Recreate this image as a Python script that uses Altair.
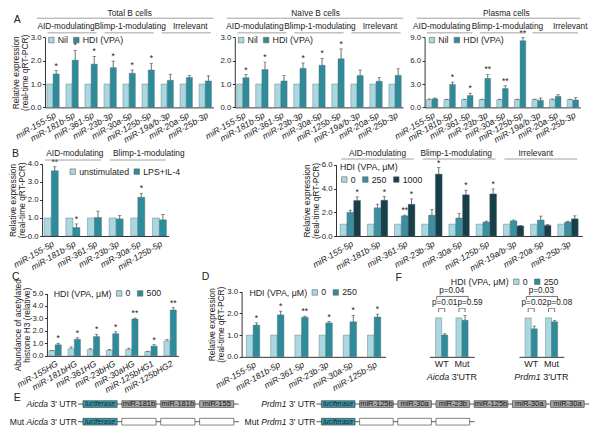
import altair as alt
import pandas as pd

W, H = 584, 419
SX = 584 / 600
SY = 419 / 430


def X(px):
    return round(px * SX, 2)


def Y(py):
    return round(py * SY, 2)


FONT = "Liberation Sans"
INK = "#222222"
LIGHT = "#a8d8e1"
TEAL = "#2e8c9a"
MID = "#3a8fa2"
DARK = "#163f4a"
BOXTEAL = "#3d9aa9"
BOXGRAY = "#a8a8a8"
HFS = 8.3   # header font size

# ---------------- data ----------------
mirs9 = ["miR-155-5p", "miR-181b-5p", "miR-361-5p", "miR-23b-3p", "miR-30a-5p",
         "miR-125b-5p", "miR-19a/b-3p", "miR-20a-5p", "miR-25b-3p"]
mirs6 = ["miR-155-5p", "miR-181b-5p", "miR-361-5p", "miR-23b-3p", "miR-30a-5p", "miR-125b-5p"]
hg7 = ["miR-155HG", "miR-181bHG", "miR-361HG", "miR-23bHG", "miR-30aHG", "miR-125bHG1", "miR-125bHG2"]
groups = ["AID-modulating", "Blimp-1-modulating", "Irrelevant"]

a_conds = ["Nil", "HDI (VPA)"]
a_nil = [1.0, 1.0, 1.0, 1.0, 1.0, 1.0, 1.0, 1.0, 1.0]
a_nil_err = [0, 0, 0, 0, 0, 0, 0, 0, 0]
a_nostar = ["", "", "", "", "", "", "", "", ""]
total_hdi = [1.43, 2.02, 1.85, 1.70, 1.46, 1.60, 1.16, 1.28, 1.13]
total_err = [0.14, 0.42, 0.33, 0.28, 0.14, 0.28, 0.26, 0.08, 0.22]
total_star = ["*", "*", "*", "*", "*", "*", "", "", ""]
naive_hdi = [1.27, 1.62, 1.13, 1.67, 1.80, 2.08, 1.36, 1.12, 1.37]
naive_err = [0.13, 0.32, 0.23, 0.23, 0.30, 0.42, 0.24, 0.16, 0.28]
naive_star = ["*", "*", "", "*", "*", "*", "", "", ""]
plasma_nil_err = [0.08, 0.05, 0.05, 0.05, 0.05, 0.05, 0.06, 0.08, 0.05]
plasma_hdi = [1.10, 2.95, 1.52, 3.72, 2.42, 8.55, 0.90, 1.42, 0.95]
plasma_err = [0.10, 0.30, 0.30, 0.50, 0.35, 0.40, 0.30, 0.20, 0.30]
plasma_star = ["", "*", "*", "**", "**", "**", "", "", ""]

b_conds = ["unstimulated", "LPS+IL-4"]
b_unstim = [1.0, 1.0, 1.0, 1.0, 1.0, 1.0]
b_unstim_err = [0, 0, 0, 0, 0, 0]
b_lps = [3.62, 0.47, 1.03, 0.95, 2.15, 0.90]
b_lps_err = [0.22, 0.20, 0.35, 0.18, 0.22, 0.30]
b_star = ["**", "*", "", "", "*", ""]
b_nostar = ["", "", "", "", "", ""]

dose_conds = ["0", "250", "1000"]
dose0 = [1.0, 1.0, 1.0, 1.0, 1.0, 1.0, 1.0, 1.0, 1.0]
dose0_err = [0, 0, 0, 0, 0, 0, 0, 0, 0]
dose250 = [2.00, 2.38, 1.70, 1.76, 1.52, 1.18, 1.28, 1.35, 1.18]
dose250_err = [0.18, 0.30, 0.06, 0.48, 0.40, 0.08, 0.07, 0.33, 0.07]
dose250_star = ["", "", "**", "", "", "", "", "", ""]
dose1000 = [3.00, 3.02, 2.68, 5.22, 3.48, 3.55, 0.85, 0.90, 1.45]
dose1000_err = [0.30, 0.30, 0.45, 0.55, 0.38, 0.42, 0.05, 0.08, 0.25]
dose1000_star = ["*", "*", "*", "*", "*", "*", "", "", ""]

c_conds = ["0", "500"]
c0 = [0.42, 0.57, 0.50, 0.45, 0.52, 0.34, 1.20]
c0_err = [0.03, 0.15, 0.07, 0.07, 0.10, 0.04, 0.10]
c500 = [0.89, 1.33, 1.55, 1.78, 2.95, 0.78, 3.68]
c500_err = [0.12, 0.12, 0.17, 0.15, 0.08, 0.12, 0.18]
c_star = ["*", "*", "*", "*", "**", "*", "**"]
c_nostar = ["", "", "", "", "", "", ""]

d_conds = ["0", "250"]
d0 = [1.0, 1.0, 1.0, 1.0, 1.0, 1.0]
d0_err = [0, 0, 0, 0, 0, 0]
d250 = [1.46, 1.93, 1.82, 1.56, 1.61, 1.83]
d250_err = [0.10, 0.17, 0.05, 0.06, 0.30, 0.13]
d_star = ["*", "*", "**", "*", "*", "*"]

f_cats = ["WT", "Mut"]
f_conds = ["0", "250"]
f_ctrl = [100, 100]
f_ctrl_err = [0, 0]
f1_250 = [56, 94]
f1_250_err = [3, 12]
f2_250 = [72, 90]
f2_250_err = [7, 3]
f_nostar = ["", ""]
f1_p_pair = ["p=0.01", "p=0.59"]
f1_p_cross = "p=0.04"
f2_p_pair = ["p=0.02", "p=0.08"]
f2_p_cross = "p=0.03"

aicda_wt = ["luciferase", "miR-181b", "miR-181b", "miR-155"]
aicda_mut = ["luciferase", "", "", ""]
prdm1_wt = ["luciferase", "miR-125b", "miR-30a", "miR-23b", "miR-125b", "miR-30a", "miR-30a"]
prdm1_mut = ["luciferase", "", "", ""]

# -------- text width helper (Arial/Liberation metrics) --------
ADV = {"A": 667, "i": 222, "c": 500, "d": 556, "a": 556, " ": 278, "3": 556, "'": 191,
       "U": 722, "T": 611, "R": 722, "M": 833, "u": 556, "t": 278, "P": 667, "r": 333,
       "m": 833, "1": 556}


def tw(s, size):
    return sum(ADV.get(ch, 556) for ch in s) * size / 1000.0


def text_at(txt, x, y, size=HFS, align="center", style="normal", color=INK, baseline="middle"):
    return alt.Chart(pd.DataFrame({"t": [txt]})).mark_text(
        align=align, baseline=baseline, fontSize=size, fontStyle=style, color=color
    ).encode(x=alt.value(x), y=alt.value(y), text="t:N")


def mk_legend(x, y, title=None, left=False, colpad=3):
    kw = dict(orient="none", legendX=X(x), legendY=Y(y), direction="horizontal",
              symbolType="square", symbolSize=30, symbolStrokeColor="#666", symbolStrokeWidth=0.6,
              labelFontSize=8.8, labelColor=INK, columnPadding=colpad, labelOffset=2, padding=0,
              title=title)
    if title is not None:
        kw.update(titleFontSize=8.8, titleFontWeight="normal", titleColor=INK, titlePadding=3)
    if left:
        kw["titleOrient"] = "left"
    return alt.Legend(**kw)


def bar_panel(cats, conds, colors, vals, errs, stars, xr, yr, ydom, yticks, ytitle, legend,
              pin=0.35, pout=0.1, angle=-30, italic=True, xfs=8.6, yfmt=".1f"):
    rows = []
    for j, c in enumerate(conds):
        for i, cat in enumerate(cats):
            rows.append({"cat": cat, "cond": c, "value": vals[j][i],
                         "top": vals[j][i] + errs[j][i], "err": errs[j][i], "star": stars[j][i]})
    df = pd.DataFrame(rows)
    xscale = alt.Scale(domain=cats, range=[X(xr[0]), X(xr[1])], paddingInner=pin, paddingOuter=pout)
    akw = dict(orient="bottom", offset=Y(yr[0]) - H, title=None, ticks=False, labelAngle=angle,
               labelFontSize=xfs, labelPadding=3, labelOverlap=False, labelLimit=0)
    if italic:
        akw["labelFontStyle"] = "italic"
    xaxis = alt.Axis(**akw)
    ykw = dict(orient="left", offset=-X(xr[0]), values=yticks, format=yfmt, title=ytitle,
               titlePadding=1, labelPadding=1.5, tickSize=2.5)
    yaxis = alt.Axis(**ykw)
    yscale = alt.Scale(domain=ydom, range=[Y(yr[0]), Y(yr[1])], nice=False)

    def xe(field="cat", bp=None):
        kw = dict(scale=xscale, axis=xaxis)
        if bp is not None:
            kw["bandPosition"] = bp
        return alt.X(field + ":N", **kw)

    def ye(field="value"):
        return alt.Y(field + ":Q", scale=yscale, axis=yaxis)

    xoff = alt.XOffset("cond:N", scale=alt.Scale(domain=conds, paddingInner=0, paddingOuter=0))
    color = alt.Color("cond:N", scale=alt.Scale(domain=conds, range=colors), legend=legend)
    base = alt.Chart(df)
    bars = base.mark_bar(stroke="#5a6a6e", strokeWidth=0.4).encode(x=xe(), xOffset=xoff, y=ye(), color=color)
    eb = base.transform_filter("datum.err > 0").mark_rule(color="#333", strokeWidth=0.7).encode(
        x=xe(), xOffset=xoff, y=ye(), y2="top:Q")
    caps = base.transform_filter("datum.err > 0").mark_tick(
        color="#333", thickness=0.7, size=3.5, orient="horizontal").encode(x=xe(), xOffset=xoff, y=ye("top"))
    st = base.transform_filter("datum.star != ''").mark_text(
        baseline="bottom", dy=0, fontSize=8.5, color=INK).encode(x=xe(), xOffset=xoff, y=ye("top"), text="star:N")
    return {"layers": [bars, eb, caps, st], "xe": xe, "ye": ye, "xoff": xoff, "xr": xr}


def group_layers(p, cats, ngroups, label_y, line_y, shifts):
    gdf = pd.DataFrame({"g": groups[:ngroups], "start": cats[0:3 * ngroups:3],
                        "mid": cats[1:3 * ngroups:3], "end": cats[2:3 * ngroups:3]})
    out = []
    for k in range(ngroups):
        out.append(alt.Chart(gdf.iloc[[k]]).mark_text(fontSize=HFS, color=INK, baseline="middle", dx=shifts[k]).encode(
            x=p["xe"]("mid"), y=alt.value(Y(label_y)), text="g:N"))
    line = alt.Chart(gdf).mark_rule(color="#8a8a8a", strokeWidth=0.8).encode(
        x=p["xe"]("start", 0.05), x2=alt.X2("end:N", bandPosition=0.95), y=alt.value(Y(line_y)))
    return out + [line]


def title_layers(p, title, cx):
    x0, x1 = p["xr"]
    line = alt.Chart(pd.DataFrame({"t": [title]})).mark_rule(color="#8a8a8a", strokeWidth=0.8).encode(
        x=alt.value(X(x0) - 8), x2=alt.value(X(x1)), y=alt.value(Y(10.5)))
    return [text_at(title, X(cx), Y(5.8)), line]


rel_title = ["Relative expression", "(real-time qRT-PCR)"]
panels = []

# ---------- A ----------
A1 = bar_panel(mirs9, a_conds, [LIGHT, TEAL], [a_nil, total_hdi], [a_nil_err, total_err],
               [a_nostar, total_star], (38, 211), (102, 30), [0, 3], [0, 1, 2, 3], rel_title, mk_legend(40, 28))
panels.append(alt.layer(*(A1["layers"] + group_layers(A1, mirs9, 3, 19.5, 25.5, (-6, 1, 4))
                          + title_layers(A1, "Total B cells", 125))))
A2 = bar_panel(mirs9, a_conds, [LIGHT, TEAL], [a_nil, naive_hdi], [a_nil_err, naive_err],
               [a_nostar, naive_star], (233, 406), (102, 30), [0, 3], [0, 1, 2, 3], None, mk_legend(235, 28))
panels.append(alt.layer(*(A2["layers"] + group_layers(A2, mirs9, 3, 19.5, 25.5, (-7, 1, 4))
                          + title_layers(A2, "Naïve B cells", 316))))
A3 = bar_panel(mirs9, a_conds, [LIGHT, TEAL], [a_nil, plasma_hdi], [plasma_nil_err, plasma_err],
               [a_nostar, plasma_star], (428, 588), (102, 30), [0, 9], [0, 3, 6, 9], None, mk_legend(431, 28))
panels.append(alt.layer(*(A3["layers"] + group_layers(A3, mirs9, 3, 19.5, 25.5, (-8, 5, 15))
                          + title_layers(A3, "Plasma cells", 512))))

# ---------- B ----------
B1 = bar_panel(mirs6, b_conds, [LIGHT, TEAL], [b_unstim, b_lps], [b_unstim_err, b_lps_err],
               [b_nostar, b_star], (35, 165), (234, 160), [0, 4], [0, 1, 2, 3, 4], rel_title, mk_legend(62, 163))
panels.append(alt.layer(*(B1["layers"] + group_layers(B1, mirs6, 2, 150, 156, (2, 11)))))
B2 = bar_panel(mirs9, dose_conds, [LIGHT, MID, DARK], [dose0, dose250, dose1000],
               [dose0_err, dose250_err, dose1000_err], [a_nostar, dose250_star, dose1000_star],
               (337, 590), (234, 161), [0, 6], [0, 2, 4, 6], rel_title,
               mk_legend(341, 159, title="HDI (VPA, μM)", colpad=5), pin=0.25, pout=0.15)
panels.append(alt.layer(*(B2["layers"] + group_layers(B2, mirs9, 3, 150, 155, (0, -3, -5)))))

# ---------- C ----------
C1 = bar_panel(hg7, c_conds, [LIGHT, TEAL], [c0, c500], [c0_err, c500_err], [c_nostar, c_star],
               (40, 175), (357, 293), [0, 5], [0, 1, 2, 3, 4, 5], ["Abundance of acetylated", "histone H3 (relative)"],
               mk_legend(47, 288, title="HDI (VPA, μM)", left=True, colpad=5))
panels.append(alt.layer(*C1["layers"]))

# ---------- D ----------
D1 = bar_panel(mirs6, d_conds, [LIGHT, TEAL], [d0, d250], [d0_err, d250_err], [b_nostar, d_star],
               (240, 388), (358, 291), [0, 3], [0, 1, 2, 3], rel_title,
               mk_legend(248, 287, title="HDI (VPA, μM)", left=True, colpad=5), pin=0.45, pout=0.2)
panels.append(alt.layer(*D1["layers"]))


# ---------- F ----------
def f_panel(vals250, errs250, p_pair, p_cross, xr, legend, title_gene, cx):
    p = bar_panel(f_cats, f_conds, [LIGHT, TEAL], [f_ctrl, vals250], [f_ctrl_err, errs250],
                  [f_nostar, f_nostar], xr, (358, 294), [0, 160], [0, 40, 80, 120, 160],
                  "Luciferase activity", legend, pin=0.4, pout=0.3, angle=0, italic=False, xfs=9, yfmt="d")
    xe, xoff = p["xe"], p["xoff"]
    pfs = 8.2
    legs = pd.DataFrame({"cat": [c for c in f_cats for _ in f_conds], "cond": [d for _ in f_cats for d in f_conds]})
    small_legs = alt.Chart(legs).mark_rule(color="#333", strokeWidth=0.7).encode(
        x=xe(), xOffset=xoff, y=alt.YDatum(115, axis=None), y2=alt.Y2Datum(124))
    pair = pd.DataFrame({"cat": f_cats, "p": p_pair})
    small_top = alt.Chart(pair).mark_tick(color="#333", thickness=0.7, size=6.2, orient="horizontal").encode(
        x=xe(), y=alt.YDatum(124, axis=None))
    ptxt_wt = alt.Chart(pair.iloc[[0]]).mark_text(fontSize=pfs, color=INK, baseline="bottom", dx=3).encode(
        x=xe(), y=alt.YDatum(127, axis=None), text="p:N")
    ptxt_mut = alt.Chart(pair.iloc[[1]]).mark_text(fontSize=pfs, color=INK, baseline="bottom", dx=8).encode(
        x=xe(), y=alt.YDatum(127, axis=None), text="p:N")
    cross = pd.DataFrame({"a": [f_cats[0]], "b": [f_cats[1]], "p": [p_cross]})
    big_top = alt.Chart(cross).mark_rule(color="#333", strokeWidth=0.7).encode(
        x=xe("a", 0.1), x2=alt.X2("b:N", bandPosition=1.0), y=alt.YDatum(155, axis=None))
    big_leg_a = alt.Chart(cross).mark_rule(color="#333", strokeWidth=0.7).encode(
        x=xe("a", 0.1), y=alt.YDatum(146, axis=None), y2=alt.Y2Datum(155))
    big_leg_b = alt.Chart(cross).mark_rule(color="#333", strokeWidth=0.7).encode(
        x=xe("b", 1.0), y=alt.YDatum(146, axis=None), y2=alt.Y2Datum(155))
    big_txt = alt.Chart(cross).mark_text(fontSize=pfs, color=INK, baseline="bottom", dx=4).encode(
        x=xe("a", 1.0), y=alt.YDatum(158, axis=None), text="p:N")
    fs = 9
    total = tw(title_gene + " " + "3'UTR", fs)
    sx = X(cx) - total / 2
    t1 = text_at(title_gene, sx, Y(379), size=fs, align="left", style="italic")
    t2 = text_at("3'UTR", sx + tw(title_gene + " ", fs), Y(379), size=fs, align="left")
    return alt.layer(*(p["layers"] + [small_legs, small_top, ptxt_wt, ptxt_mut, big_top, big_leg_a, big_leg_b, big_txt, t1, t2]))


panels.append(f_panel(f1_250, f1_250_err, f1_p_pair, f1_p_cross, (433, 479),
                      mk_legend(455, 276, title="HDI (VPA, μM)", left=True, colpad=5), "Aicda", 456))
panels.append(f_panel(f2_250, f2_250_err, f2_p_pair, f2_p_cross, (525, 571), None, "Prdm1", 548))


# ---------- E ----------
def construct(wt, mut, gene, xr):
    n = len(wt)
    slot_ids = ["s%d" % i for i in range(n)]
    rows = []
    for i, lab in enumerate(wt):
        rows.append({"row": "wt", "slot": slot_ids[i], "label": lab, "kind": "luc" if lab == "luciferase" else "mir"})
    for i, lab in enumerate(mut):
        rows.append({"row": "mut", "slot": slot_ids[i], "label": lab, "kind": "luc" if lab == "luciferase" else "mut"})
    df = pd.DataFrame(rows)
    pin = 0.12
    x0c, x1c = X(xr[0]), X(xr[1])
    xs = alt.Scale(domain=slot_ids, range=[x0c, x1c], paddingInner=pin, paddingOuter=0)
    step = (x1c - x0c) / (n - pin)
    band = step * (1 - pin)

    def xe(field, bp=None):
        kw = dict(scale=xs, axis=None)
        if bp is not None:
            kw["bandPosition"] = bp
        return alt.X(field + ":N", **kw)

    ye = alt.Y("row:N", scale=alt.Scale(domain=["wt", "mut"], range=[Y(403), Y(428)],
                                        paddingInner=0.62, paddingOuter=0), axis=None)
    bb = pd.DataFrame({"row": ["wt", "mut"], "start": ["s0", "s0"],
                       "prefix": ["", "Mut"], "gene": [gene, gene], "suffix": ["3' UTR", "3' UTR"]})
    lead = 5
    layers = []
    for r, k in (("wt", len(wt)), ("mut", len(mut))):
        end = x0c + (k - 1) * step + band + lead
        layers.append(alt.Chart(bb).transform_filter("datum.row == '%s'" % r).mark_rule(
            color="#333", strokeWidth=0.8).encode(x=alt.value(x0c - lead), x2=alt.value(end), y=ye))
    boxes = alt.Chart(df).mark_rect(stroke="#333", strokeWidth=0.6).encode(
        x=xe("slot"), y=ye,
        fill=alt.Fill("kind:N", scale=alt.Scale(domain=["luc", "mir", "mut"], range=[BOXTEAL, BOXGRAY, "#ffffff"]), legend=None))
    luc = alt.Chart(df).transform_filter("datum.kind == 'luc'").mark_text(
        fontSize=7, fontStyle="italic", color="#0c2a30").encode(x=xe("slot"), y=ye, text="label:N")
    mir = alt.Chart(df).transform_filter("datum.kind == 'mir'").mark_text(
        fontSize=7.5, color="#111").encode(x=xe("slot"), y=ye, text="label:N")
    fs = 8.6
    gap = lead + 1
    wsuf = tw("3' UTR", fs)
    wsp = tw(" ", fs)
    wgene = tw(gene, fs)
    suf = alt.Chart(bb).mark_text(fontSize=fs, align="right", dx=-gap, color=INK).encode(
        x=xe("start", 0), y=ye, text="suffix:N")
    gen = alt.Chart(bb).mark_text(fontSize=fs, align="right", fontStyle="italic", dx=-(gap + wsuf + wsp), color=INK).encode(
        x=xe("start", 0), y=ye, text="gene:N")
    pre = alt.Chart(bb).transform_filter("datum.prefix != ''").mark_text(
        fontSize=fs, align="right", dx=-(gap + wsuf + 2 * wsp + wgene), color=INK).encode(
        x=xe("start", 0), y=ye, text="prefix:N")
    return alt.layer(*(layers + [boxes, luc, mir, suf, gen, pre]))


panels.append(construct(aicda_wt, aicda_mut, "Aicda", (77, 232)))
panels.append(construct(prdm1_wt, prdm1_mut, "Prdm1", (322, 592)))

# ---------- panel letters ----------
letters = [("A", 5, 12), ("B", 3, 150), ("C", 3, 276), ("D", 198, 276), ("E", 5, 400), ("F", 397, 277)]
for t, lx, ly in letters:
    panels.append(text_at(t, X(lx) + 1, Y(ly), size=10.5, align="left"))

chart = alt.layer(*panels).resolve_scale(
    x="independent", y="independent", color="independent", xOffset="independent"
).properties(
    width=W, height=H, padding=0, autosize=alt.AutoSizeParams(type="none")
).configure(font=FONT).configure_view(stroke=None).configure_axis(
    labelFont=FONT, titleFont=FONT, labelColor=INK, titleColor=INK, domainColor="#000",
    tickColor="#000", domainWidth=0.8, tickWidth=0.8, labelFontSize=7.8, titleFontSize=8.4,
    titleLineHeight=9, titleFontWeight="normal", grid=False
)

chart.save("out.html", embed_options={"renderer": "svg", "actions": False})
